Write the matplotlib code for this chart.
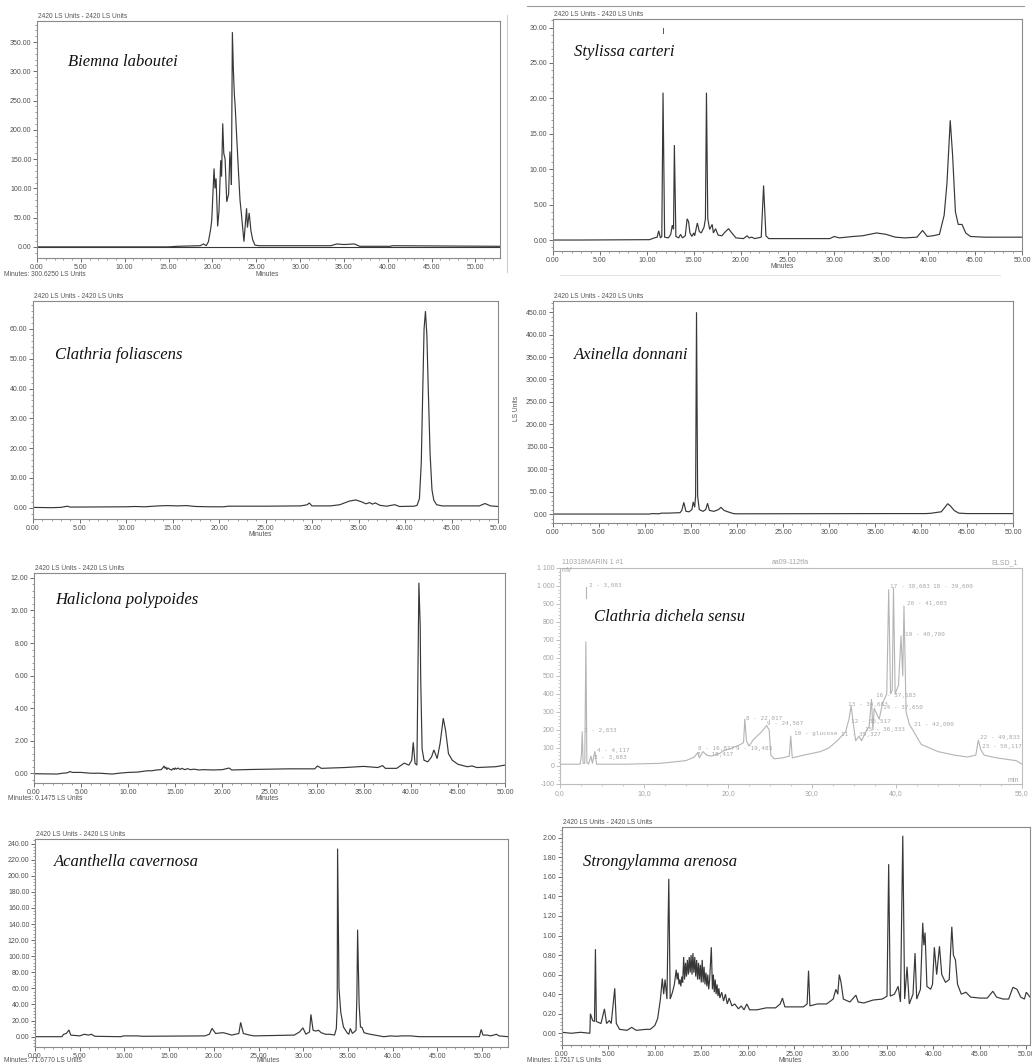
import matplotlib
matplotlib.use("Agg")
import matplotlib.pyplot as plt
from matplotlib.ticker import MultipleLocator

plt.rcParams['font.family'] = ['Liberation Sans', 'DejaVu Sans']

# ---------------- data: traces as (minutes, response) vertices
BIEMNA = [(0, 0), (15, 0), (16, 1), (18.6, 2), (19.0, 5), (19.3, 2), (19.55, 9), (19.8, 30), (19.93, 46),
          (20.19, 134), (20.3, 100), (20.42, 117), (20.6, 35), (20.75, 60), (20.95, 148), (21.05, 120),
          (21.18, 211), (21.3, 160), (21.45, 150), (21.64, 77), (21.85, 90), (22.0, 163), (22.1, 140),
          (22.17, 106), (22.28, 367), (22.4, 300), (22.51, 259), (22.6, 240), (22.9, 150), (23.15, 80),
          (23.3, 58), (23.6, 9), (23.9, 66), (24.0, 33), (24.2, 58), (24.4, 27), (24.6, 12), (24.86, 3),
          (25.3, 2), (33.5, 2), (34.2, 5), (35.0, 4), (36.2, 5), (36.8, 1), (40.3, 1), (40.5, 2), (52.8, 1)]

STYLISSA = [(0, 0), (3, 0), (10.3, 0.05), (10.8, 0.3), (11.1, 0.4), (11.27, 1.3), (11.45, 0.3), (11.6, 0.5),
            (11.73, 20.8), (11.9, 0.4), (12.3, 0.3), (12.55, 0.8), (12.72, 2.1), (12.85, 1.5), (12.94, 13.4),
            (13.1, 0.5), (13.4, 0.3), (13.6, 0.8), (13.8, 0.3), (14.1, 0.6), (14.3, 3.0), (14.45, 2.6),
            (14.6, 1.0), (14.8, 0.5), (15.0, 1.0), (15.1, 0.6), (15.39, 2.4), (15.6, 1.2), (15.8, 1.0),
            (16.1, 1.8), (16.25, 3), (16.36, 20.8), (16.5, 3), (16.7, 1.5), (16.97, 2.2), (17.1, 1.0),
            (17.33, 1.6), (17.6, 0.7), (18.0, 0.6), (18.4, 1.2), (18.72, 1.6), (19.0, 1.1), (19.5, 0.3),
            (20.3, 0.2), (20.7, 0.6), (20.9, 0.3), (21.2, 0.4), (21.5, 0.2), (22.2, 0.4), (22.45, 7.7),
            (22.7, 0.6), (23.0, 0.2), (25, 0.2), (29.5, 0.2), (30.0, 0.5), (30.5, 0.3), (32, 0.5), (33, 0.6),
            (34.5, 1.0), (35.5, 0.8), (36.5, 0.4), (37.5, 0.3), (38.8, 0.4), (39.4, 1.35), (39.9, 0.5),
            (40.5, 0.6), (41.2, 0.8), (41.7, 3.5), (42.0, 8), (42.35, 16.9), (42.6, 12), (42.9, 4),
            (43.2, 2.2), (43.6, 2.2), (44.0, 1.0), (44.5, 0.5), (46, 0.4), (50, 0.4)]
STYLISSA_MARK = [(11.73, 29.2), (11.73, 29.9)]

FOLIASCENS = [(0, 0.1), (2, 0), (3, 0.1), (3.7, 0.5), (4, 0.2), (10, 0.3), (11, 0.4), (12, 0.3), (13.5, 0.6),
              (14.5, 0.7), (15.5, 0.6), (16.5, 0.7), (17.5, 0.4), (19, 0.3), (20.5, 0.3), (21, 0.5), (25, 0.5),
              (28.8, 0.6), (29.5, 1.0), (29.7, 1.6), (30.0, 0.6), (32, 0.6), (33, 1.0), (34, 2.2), (34.7, 2.6),
              (35.3, 2.0), (35.8, 1.3), (36.2, 1.7), (36.5, 1.2), (36.8, 1.6), (37.3, 0.8), (38, 0.5),
              (38.9, 1.0), (39.4, 0.4), (41, 0.5), (41.3, 0.8), (41.55, 3), (41.75, 15), (41.9, 38),
              (42.05, 60), (42.2, 66), (42.35, 58), (42.5, 40), (42.7, 18), (42.9, 6), (43.1, 2.5),
              (43.4, 1.0), (44, 0.6), (48, 0.6), (48.6, 1.4), (49.2, 0.6), (50, 0.4)]

AXINELLA = [(0, 0), (10.5, 0), (10.8, 1), (11.5, 0.5), (11.8, 2), (12.5, 2), (13.8, 3), (14.0, 8), (14.22, 26),
            (14.45, 6), (14.8, 5), (15.1, 10), (15.24, 27), (15.4, 15), (15.5, 40), (15.6, 450), (15.72, 40),
            (15.9, 10), (16.3, 6), (16.6, 10), (16.8, 24), (17.0, 8), (17.5, 6), (18.0, 10), (18.25, 15),
            (18.6, 8), (19.0, 5), (19.6, 1), (20, 0.5), (36, 1), (37, 1), (40.5, 1), (41, 1.5), (42.2, 5),
            (42.6, 15), (42.9, 23), (43.2, 18), (43.6, 8), (44.1, 2), (45, 1), (50, 1)]

HALICLONA = [(0, -0.03), (2.5, -0.05), (3.0, 0.0), (3.5, 0.02), (3.8, 0.1), (4.1, 0.05), (5, 0.05), (6, 0.0),
             (7, 0.0), (8.3, -0.05), (9, 0.0), (10, 0.05), (11, 0.07), (12, 0.15), (12.5, 0.15), (13, 0.2),
             (13.5, 0.22), (13.7, 0.35), (13.8, 0.45), (13.9, 0.3), (14.0, 0.38), (14.1, 0.22), (14.2, 0.33),
             (14.4, 0.25), (14.6, 0.2), (14.8, 0.3), (14.9, 0.22), (15.0, 0.33), (15.1, 0.25), (15.3, 0.32),
             (15.5, 0.23), (15.7, 0.3), (16.0, 0.22), (16.3, 0.28), (16.6, 0.22), (17, 0.25), (17.5, 0.2),
             (18, 0.22), (19, 0.2), (20, 0.22), (20.7, 0.32), (21, 0.2), (23, 0.23), (25, 0.25), (27, 0.27),
             (29.8, 0.27), (30.1, 0.45), (30.5, 0.3), (33, 0.35), (35, 0.42), (36.5, 0.35), (37.0, 0.47),
             (37.3, 0.3), (38.5, 0.3), (39.3, 0.62), (39.8, 0.5), (40.1, 0.8), (40.26, 1.9), (40.45, 0.6),
             (40.65, 0.5), (40.86, 11.7), (41.0, 9.0), (41.05, 5.8), (41.2, 1.5), (41.4, 0.8), (41.8, 0.7),
             (42.2, 1.0), (42.45, 1.43), (42.8, 0.9), (43.1, 1.8), (43.45, 3.38), (43.7, 2.6), (44.0, 1.2),
             (44.4, 0.8), (45, 0.55), (46, 0.4), (46.5, 0.45), (47, 0.35), (49, 0.4), (50, 0.5)]

DICHELA = [(0, 10), (2.4, 10), (2.55, 60), (2.65, 190), (2.75, 15), (2.95, 15), (3.08, 690), (3.2, 20),
           (3.4, 10), (3.68, 55), (3.85, 15), (4.15, 80), (4.35, 10), (5, 10), (8, 10), (12, 15), (15, 30),
           (16.0, 50), (16.4, 75), (16.6, 45), (17.0, 80), (17.5, 60), (18.0, 55), (19.0, 70), (19.5, 85),
           (20.5, 100), (21.5, 120), (21.85, 130), (22.0, 260), (22.2, 140), (22.5, 110), (23.0, 145),
           (24.0, 190), (24.6, 225), (24.9, 200), (25.1, 60), (25.5, 40), (26.5, 45), (27.3, 55), (27.47, 166),
           (27.65, 45), (29, 60), (30, 70), (31, 80), (32, 100), (33, 140), (34, 190), (34.4, 260),
           (34.66, 335), (34.9, 240), (35.2, 140), (35.6, 165), (35.9, 140), (36.3, 180), (36.8, 220),
           (37.08, 370), (37.25, 200), (37.4, 320), (37.7, 290), (38.0, 260), (38.4, 350), (38.9, 400),
           (39.13, 980), (39.35, 400), (39.55, 420), (39.7, 990), (39.9, 400), (40.3, 450), (40.6, 723),
           (40.8, 500), (40.95, 889), (41.2, 300), (41.6, 230), (42.0, 200), (43.0, 120), (44.0, 100),
           (45, 80), (47, 60), (48.5, 50), (49.5, 60), (49.8, 144), (50.1, 90), (50.5, 60), (52, 45),
           (53.5, 35), (54.3, 30), (55, 10)]
DICHELA_LABELS = [("2 - 3,083", 3.5, 1000), ("1 - 2,833", 2.9, 196), ("4 - 4,117", 4.35, 84),
                  ("3 - 3,683", 4.0, 50), ("8 - 16,817", 16.4, 96), ("9 - 19,483", 21.0, 96),
                  ("7 - 18,417", 16.3, 62), ("8 - 22,017", 22.2, 262), ("9 - 24,567", 24.7, 236),
                  ("10 - glucose", 27.8, 178), ("11 - 35,327", 33.4, 176), ("12 - 35,517", 34.7, 250),
                  ("13 - 34,683", 34.3, 342), ("15 - 36,333", 36.3, 200), ("14 - 37,650", 38.4, 326),
                  ("16 - 37,183", 37.6, 392), ("17 - 38,683", 39.3, 995), ("18 - 39,600", 44.4, 995),
                  ("20 - 41,083", 41.3, 900), ("19 - 40,700", 41.1, 730), ("21 - 42,000", 42.2, 228),
                  ("22 - 49,833", 50.0, 158), ("23 - 50,117", 50.2, 108)]
DICHELA_LINK = [(3.08, 935, 995)]

ACANTHELLA = [(0, 0), (3.0, 0), (3.2, 3), (3.5, 4), (3.8, 8.3), (4.0, 2), (5, 1), (5.5, 3), (6.0, 2), (6.3, 3),
              (6.7, 0.5), (9.6, 0), (9.9, 1), (11.5, 1), (12, 0.5), (19, 1), (19.5, 3), (19.8, 10.3), (20.2, 4),
              (21, 5), (21.4, 4), (22, 2), (22.8, 4), (23.0, 17.8), (23.3, 4), (24, 2), (24.5, 1), (29, 2),
              (29.6, 6), (29.96, 11), (30.3, 3), (30.7, 6), (30.86, 27.7), (31.1, 8), (31.4, 7), (31.7, 8),
              (32.0, 5), (32.5, 3), (33.0, 3), (33.5, 2), (33.7, 10), (33.8, 38), (33.84, 233.7), (34.0, 60),
              (34.2, 30), (34.5, 12), (34.9, 5), (35.1, 3), (35.26, 10.3), (35.5, 4), (35.9, 8), (36.0, 50),
              (36.08, 133), (36.25, 40), (36.4, 12), (36.57, 11.6), (36.8, 5), (37.1, 4), (37.5, 3), (38, 2),
              (39, 0), (39.8, 1), (40.4, 0.5), (41, 1), (42, 1), (43, 0), (49.7, 0), (49.9, 9), (50.1, 2),
              (50.6, 2), (50.9, 1), (51.3, 2), (51.6, 3), (51.9, 1), (52.9, 0)]

STRONGYLAMMA = [(0, 0.01), (1, 0.0), (2, 0.01), (3.0, 0.0), (3.06, 0.2), (3.3, 0.13), (3.5, 0.12), (3.6, 0.86),
                (3.7, 0.12), (4.2, 0.1), (4.57, 0.25), (4.8, 0.1), (5.1, 0.13), (5.3, 0.1), (5.68, 0.46),
                (5.85, 0.1), (6.2, 0.04), (7.0, 0.03), (7.5, 0.06), (8.0, 0.03), (9.0, 0.04), (9.5, 0.04),
                (10.0, 0.08), (10.3, 0.15), (10.6, 0.35), (10.8, 0.56), (10.95, 0.4), (11.1, 0.55), (11.3, 0.35),
                (11.5, 1.58), (11.65, 0.35), (11.9, 0.42), (12.1, 0.5), (12.3, 0.65), (12.4, 0.55), (12.5, 0.62),
                (12.6, 0.5), (12.7, 0.55), (12.8, 0.48), (12.9, 0.58), (13.0, 0.52), (13.1, 0.78), (13.2, 0.55),
                (13.3, 0.72), (13.4, 0.58), (13.5, 0.75), (13.6, 0.6), (13.7, 0.78), (13.8, 0.62), (13.9, 0.8),
                (14.0, 0.6), (14.1, 0.82), (14.2, 0.62), (14.3, 0.78), (14.4, 0.58), (14.5, 0.75), (14.6, 0.55),
                (14.7, 0.72), (14.8, 0.55), (14.9, 0.7), (15.0, 0.52), (15.1, 0.75), (15.2, 0.52), (15.3, 0.68),
                (15.4, 0.5), (15.5, 0.62), (15.6, 0.48), (15.7, 0.6), (15.8, 0.45), (15.9, 0.55), (16.08, 0.88),
                (16.2, 0.45), (16.3, 0.6), (16.4, 0.42), (16.5, 0.55), (16.6, 0.4), (16.7, 0.5), (16.8, 0.38),
                (16.9, 0.46), (17.0, 0.36), (17.2, 0.42), (17.4, 0.33), (17.6, 0.4), (17.8, 0.3), (18.0, 0.36),
                (18.3, 0.28), (18.6, 0.3), (19.0, 0.25), (19.3, 0.28), (19.6, 0.24), (19.9, 0.3), (20.2, 0.24),
                (21, 0.24), (22, 0.26), (23, 0.26), (23.5, 0.3), (23.74, 0.36), (24.0, 0.27), (25, 0.27),
                (26, 0.27), (26.4, 0.3), (26.55, 0.64), (26.7, 0.28), (27.5, 0.3), (28.5, 0.3), (29.2, 0.35),
                (29.5, 0.45), (29.7, 0.4), (29.86, 0.6), (30.05, 0.52), (30.3, 0.35), (31.0, 0.32), (31.65, 0.39),
                (31.9, 0.32), (32.5, 0.31), (33.5, 0.34), (34.5, 0.35), (35.0, 0.38), (35.18, 1.73), (35.35, 0.38),
                (35.8, 0.4), (36.2, 0.48), (36.45, 0.32), (36.7, 2.02), (36.9, 0.35), (37.16, 0.68), (37.4, 0.3),
                (37.8, 0.4), (38.02, 0.82), (38.2, 0.35), (38.6, 0.45), (38.85, 1.13), (38.97, 0.9), (39.1, 1.03),
                (39.3, 0.48), (39.7, 0.45), (39.9, 0.5), (40.1, 0.88), (40.35, 0.6), (40.65, 0.89), (40.9, 0.6),
                (41.3, 0.52), (41.7, 0.55), (41.98, 1.09), (42.15, 0.8), (42.37, 0.75), (42.6, 0.5), (43.0, 0.4),
                (43.5, 0.42), (44, 0.37), (45, 0.36), (45.8, 0.36), (46.4, 0.43), (46.8, 0.37), (47.5, 0.35),
                (48.1, 0.35), (48.56, 0.47), (49.0, 0.45), (49.4, 0.37), (49.8, 0.35), (50.0, 0.42), (50.4, 0.37)]

# tick values
X_TICKS_50 = [0, 5, 10, 15, 20, 25, 30, 35, 40, 45, 50]
Y_BIEMNA = [0, 50, 100, 150, 200, 250, 300, 350]
Y_STYLISSA = [0, 5, 10, 15, 20, 25, 30]
Y_FOLIASCENS = [0, 10, 20, 30, 40, 50, 60]
Y_AXINELLA = [0, 50, 100, 150, 200, 250, 300, 350, 400, 450]
Y_HALICLONA = [0, 2, 4, 6, 8, 10, 12]
Y_ACANTHELLA = [0, 20, 40, 60, 80, 100, 120, 140, 160, 180, 200, 220, 240]
Y_STRONGYLAMMA = [0, 0.2, 0.4, 0.6, 0.8, 1.0, 1.2, 1.4, 1.6, 1.8, 2.0]
X_DICHELA = [0, 10, 20, 30, 40, 55]
X_DICHELA_LABELS = ["0,0", "10,0", "20,0", "30,0", "40,0", "55,0"]
Y_DICHELA = [-100, 0, 100, 200, 300, 400, 500, 600, 700, 800, 900, 1000, 1100]
Y_DICHELA_LABELS = ["-100", "0", "100", "200", "300", "400", "500", "600", "700", "800", "900", "1 000", "1 100"]

SPECIES = ["Biemna laboutei", "Stylissa carteri", "Clathria foliascens", "Axinella donnani",
           "Haliclona polypoides", "Clathria dichela sensu", "Acanthella cavernosa", "Strongylamma arenosa"]
HEADER = "2420 LS Units - 2420 LS Units"

# ---------------- figure
W, H = 1032, 1064
fig = plt.figure(figsize=(W / 100, H / 100), dpi=100)
fig.patch.set_facecolor('white')


def px_axes(l, t, r, b):
    return fig.add_axes([l / W, 1 - b / H, (r - l) / W, (b - t) / H])


def ftext(x, y, s, **kw):
    fig.text(x / W, 1 - y / H, s, **kw)


def species(x, y, s):
    ftext(x, y, s, family=['Liberation Serif'], style='italic', fontsize=12, va='center', ha='left',
          color='#111')


def empower(box, trace, xlim, ylim, yticks, header_y, xticks=X_TICKS_50):
    ax = px_axes(*box)
    t = [p[0] for p in trace]
    v = [p[1] for p in trace]
    ax.plot(t, v, color='#383838', lw=0.85, solid_joinstyle='miter')
    ax.set_xlim(*xlim)
    ax.set_ylim(*ylim)
    ax.set_xticks(xticks)
    ax.set_xticklabels([f"{x:.2f}" for x in xticks])
    ax.set_yticks(yticks)
    ax.set_yticklabels([f"{y:.2f}" for y in yticks])
    ax.xaxis.set_minor_locator(MultipleLocator(1))
    ax.yaxis.set_minor_locator(MultipleLocator((yticks[1] - yticks[0]) / 5))
    ax.tick_params(which='major', direction='out', length=3, width=0.6, color='#555',
                   labelsize=5, labelcolor='#505050', pad=1)
    ax.tick_params(which='minor', direction='out', length=1.6, width=0.5, color='#777')
    for s in ax.spines.values():
        s.set_color('#8a8a8a')
        s.set_linewidth(0.8)
    ftext(box[0] + 1, header_y, HEADER, fontsize=4.8, color='#555', ha='left', va='bottom')
    return ax


def note(x, y, s, ha='center'):
    ftext(x, y, s, fontsize=4.8, color='#555', ha=ha, va='center')


# 1 Biemna laboutei
ax1 = empower((37, 21, 500, 258), BIEMNA, (0, 52.8), (-19, 386), Y_BIEMNA, 20)
ax1.axhline(0, color='#383838', lw=0.8)
species(68, 62, SPECIES[0])
note(267, 275, "Minutes")
note(4, 274, "Minutes: 300.6250 LS Units", ha='left')
fig.add_artist(plt.Line2D([507 / W, 507 / W], [1 - 15 / H, 1 - 272 / H], color='#cfcfcf', lw=0.8))

# 2 Stylissa carteri
ax2 = empower((553, 19, 1022, 251), STYLISSA, (0, 50), (-1.55, 31.2), Y_STYLISSA, 18)
ax2.plot([p[0] for p in STYLISSA_MARK], [p[1] for p in STYLISSA_MARK], color='#555', lw=0.7)
species(574, 52, SPECIES[1])
note(782, 267, "Minutes")
fig.add_artist(plt.Line2D([527 / W, 1024 / W], [1 - 6 / H, 1 - 6 / H], color='#9a9a9a', lw=0.8))
fig.add_artist(plt.Line2D([560 / W, 1000 / W], [1 - 275 / H, 1 - 275 / H], color='#dddddd', lw=0.6))

# 3 Clathria foliascens
ax3 = empower((33, 301, 498, 519), FOLIASCENS, (0, 50), (-3.8, 69.4), Y_FOLIASCENS, 300)
species(55, 355, SPECIES[2])
note(260, 535, "Minutes")

# 4 Axinella donnani
ax4 = empower((553, 301, 1013, 523), AXINELLA, (0, 50), (-20, 475), Y_AXINELLA, 300)
species(574, 355, SPECIES[3])
ftext(517, 408, "LS Units", fontsize=4.8, color='#555', rotation=90, ha='center', va='center')

# 5 Haliclona polypoides
ax5 = empower((34, 573, 505, 783), HALICLONA, (0, 50), (-0.6, 12.3), Y_HALICLONA, 572)
species(55, 600, SPECIES[4])
note(267, 799, "Minutes")
note(8, 798, "Minutes: 0.1475 LS Units", ha='left')

# 6 Clathria dichela sensu (ELSD, light grey export)
g = '#b4b4b4'
ax6 = px_axes(560, 568, 1022, 784)
ax6.plot([p[0] for p in DICHELA], [p[1] for p in DICHELA], color=g, lw=0.8)
for (xx, y0, y1) in DICHELA_LINK:
    ax6.plot([xx, xx], [y0, y1], color=g, lw=0.8)
for (s, xx, yy) in DICHELA_LABELS:
    ax6.text(xx, yy, s, fontsize=4.3, color='#a8a8a8', ha='left', va='center', clip_on=True,
             family=['DejaVu Sans Mono'])
ax6.set_xlim(0, 55)
ax6.set_ylim(-100, 1100)
ax6.set_xticks(X_DICHELA)
ax6.set_xticklabels(X_DICHELA_LABELS)
ax6.set_yticks(Y_DICHELA)
ax6.set_yticklabels(Y_DICHELA_LABELS)
ax6.xaxis.set_minor_locator(MultipleLocator(2.5))
ax6.yaxis.set_minor_locator(MultipleLocator(20))
ax6.tick_params(which='major', direction='out', length=3, width=0.6, color=g, labelsize=5,
                labelcolor='#a5a5a5', pad=1)
ax6.tick_params(which='minor', direction='out', length=1.5, width=0.5, color=g)
for s in ax6.spines.values():
    s.set_color('#bdbdbd')
    s.set_linewidth(0.8)
ftext(562, 566, "110318MARIN 1 #1", fontsize=5, color='#a5a5a5', ha='left', va='bottom')
ftext(790, 566, "aa09-112tfa", fontsize=5, color='#a5a5a5', ha='center', va='bottom')
ftext(1018, 566, "ELSD_1", fontsize=5, color='#a5a5a5', ha='right', va='bottom')
ftext(562, 571, "mV", fontsize=5, color='#a5a5a5', ha='left', va='center')
ftext(1019, 781, "min", fontsize=5, color='#a5a5a5', ha='right', va='center')
species(594, 617, SPECIES[5])

# 7 Acanthella cavernosa
ax7 = empower((35, 839, 508, 1047), ACANTHELLA, (0, 52.9), (-12.8, 245.6), Y_ACANTHELLA, 838)
species(54, 862, SPECIES[6])
note(268, 1061, "Minutes")
note(4, 1061, "Minutes: 71.6770 LS Units", ha='left')

# 8 Strongylamma arenosa
ax8 = empower((562, 827, 1030, 1045), STRONGYLAMMA, (0, 50.4), (-0.12, 2.11), Y_STRONGYLAMMA, 826)
species(583, 862, SPECIES[7])
note(790, 1060, "Minutes")
note(527, 1061, "Minutes: 1.7517 LS Units", ha='left')

fig.savefig("out.png", dpi=100, facecolor='white')
